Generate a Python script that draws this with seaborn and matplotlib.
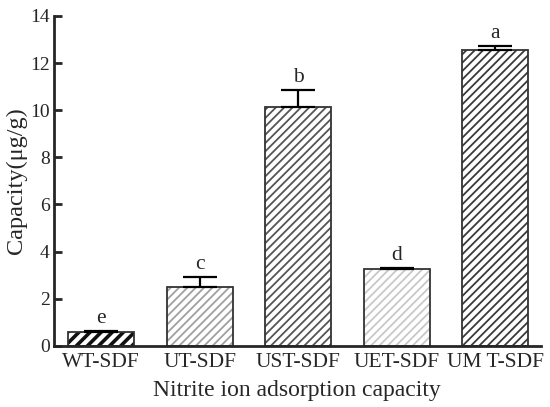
import numpy as np
import pandas as pd
import seaborn as sns
import matplotlib.pyplot as plt

samples = ["WT-SDF", "UT-SDF", "UST-SDF", "UET-SDF", "UM T-SDF"]
capacity = [0.6, 2.5, 10.15, 3.25, 12.55]
err = [0.05, 0.42, 0.72, 0.06, 0.18]
letters = ["e", "c", "b", "d", "a"]
hatch_colors = ["#111111", "#a0a0a0", "#555555", "#c8c8c8", "#3a3a3a"]
hatches = ["///", "////", "////", "////", "////"]

df = pd.DataFrame({"sample": samples, "capacity": capacity})

sns.set_style("ticks")
plt.rcParams["font.family"] = ["Liberation Serif", "DejaVu Serif"]
plt.rcParams["hatch.linewidth"] = 1.3

fig = plt.figure(figsize=(5.5, 4.07), dpi=100)
ax = fig.add_axes([0.098, 0.15, 0.885, 0.811])

# hatch layer
sns.barplot(data=df, x="sample", y="capacity", color="white", width=0.67,
            errorbar=None, ax=ax)
for i, p in enumerate(ax.patches):
    p.set_hatch(hatches[i])
    p.set_edgecolor(hatch_colors[i])
    p.set_linewidth(0)
    if i == 0 and hasattr(p, "set_hatch_linewidth"):
        p.set_hatch_linewidth(2.6)
    elif hasattr(p, "set_hatch_linewidth"):
        p.set_hatch_linewidth(1.3)

# outline layer
sns.barplot(data=df, x="sample", y="capacity", fill=False, width=0.67,
            errorbar=None, edgecolor="#333333", linewidth=1.3, ax=ax)

x = np.arange(len(samples))
ax.errorbar(x, capacity, yerr=[np.zeros(len(err)), err], fmt="none",
            ecolor="black", elinewidth=1.6, capsize=12, capthick=1.6)
for xi, v, e, t in zip(x, capacity, err, letters):
    ax.text(xi, v + e + 0.12, t, ha="center", va="bottom", fontsize=15.5)

ax.set_ylim(0, 14)
ax.set_xlim(-0.48, 4.46)
ax.set_yticks(range(0, 15, 2))
ax.set_xlabel("Nitrite ion adsorption capacity", fontsize=17, labelpad=6)
ax.set_ylabel("Capacity(μg/g)", fontsize=17.5, va="center")
ax.yaxis.set_label_coords(-0.077, 0.5)
ax.tick_params(axis="y", direction="in", length=6, width=2, labelsize=14, pad=3)
ax.tick_params(axis="x", direction="in", length=6, width=2, labelsize=15.5, pad=5)
for s in ["left", "bottom"]:
    ax.spines[s].set_linewidth(2)
sns.despine(ax=ax)

fig.savefig("out.png", dpi=100)
